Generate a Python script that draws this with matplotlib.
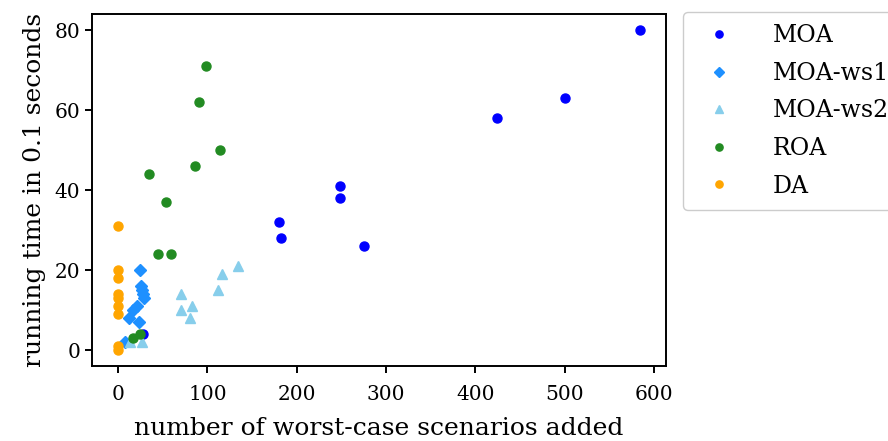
import matplotlib.pyplot as plt

plt.rcParams['font.family'] = ['DejaVu Serif']
plt.rcParams['axes.linewidth'] = 1.4

# running time (in 0.1 s) vs. number of worst-case scenarios added
moa_x = [584, 500, 424, 248, 248, 180, 182, 275, 28]
moa_y = [80, 63, 58, 41, 38, 32, 28, 26, 4]

ws1_x = [24, 26, 27, 28, 29, 21, 17, 12, 23, 8]
ws1_y = [20, 16, 15, 14, 13, 11, 10, 8, 7, 2]

ws2_x = [70, 116, 134, 112, 83, 70, 81, 27, 13]
ws2_y = [14, 19, 21, 15, 11, 10, 8, 2, 2]

roa_x = [98, 91, 114, 86, 35, 54, 45, 59, 25, 17]
roa_y = [71, 62, 50, 46, 44, 37, 24, 24, 4, 3]

da_x = [0, 0, 0, 0, 0, 0, 0, 0, 0]
da_y = [31, 20, 18, 14, 13, 11, 9, 1, 0]

fig = plt.figure(figsize=(8.88, 4.41), dpi=100)
ax = fig.add_axes([0.1036, 0.17, 0.6464, 0.798])

ax.plot(moa_x, moa_y, 'o', color='blue', markersize=6.5, label='MOA')
ax.plot(ws1_x, ws1_y, 'D', color='dodgerblue', markersize=6, label='MOA-ws1')
ax.plot(ws2_x, ws2_y, '^', color='skyblue', markersize=7, label='MOA-ws2')
ax.plot(roa_x, roa_y, 'o', color='forestgreen', markersize=6.5, label='ROA')
ax.plot(da_x, da_y, 'o', color='orange', markersize=6.5, label='DA')

ax.set_xticks([0, 100, 200, 300, 400, 500, 600])
ax.set_yticks([0, 20, 40, 60, 80])
ax.tick_params(labelsize=14.5, width=1.4, length=5)
ax.tick_params(axis='x', pad=9)

ax.set_xlabel('number of worst-case scenarios added', fontsize=18, labelpad=9)
ax.set_ylabel('running time in 0.1 seconds', fontsize=18, labelpad=6)

ax.legend(loc='upper left', bbox_to_anchor=(1.03, 1.005), borderaxespad=0,
          fontsize=17, markerscale=0.8, labelspacing=0.62, borderpad=0.5,
          handletextpad=1.3, edgecolor='#cccccc', framealpha=1)

fig.savefig('out.png', dpi=100)
